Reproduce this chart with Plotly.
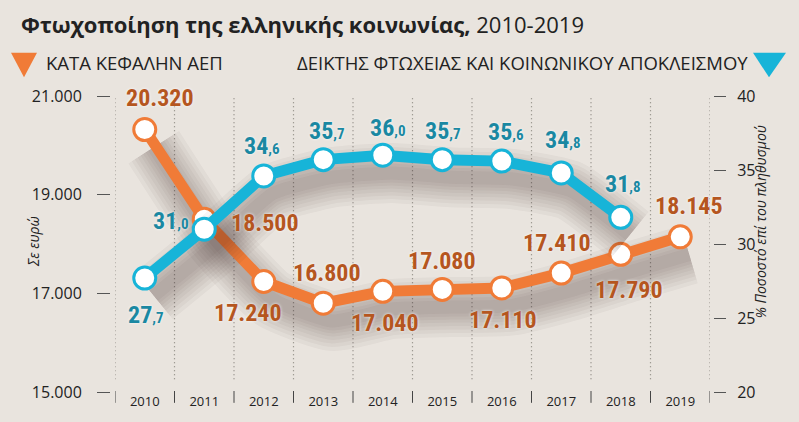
import plotly.graph_objects as go

# ---------------- data ----------------
years = ["2010", "2011", "2012", "2013", "2014", "2015", "2016", "2017", "2018", "2019"]
gdp_per_capita = [20320, 18500, 17240, 16800, 17040, 17080, 17110, 17410, 17790, 18145]
poverty_years = ["2010", "2011", "2012", "2013", "2014", "2015", "2016", "2017", "2018"]
poverty_index = [27.7, 31.0, 34.6, 35.7, 36.0, 35.7, 35.6, 34.8, 31.8]
left_ticks = [15000, 17000, 19000, 21000]
left_ticktext = ["15.000", "17.000", "19.000", "21.000"]
right_ticks = [20, 25, 30, 35, 40]

# ---------------- style ----------------
W, H = 799, 422
ML, MR, MT, MB = 100, 74, 96, 25
PW, PH = W - ML - MR, H - MT - MB
BG = "#E9E4DE"
ORANGE = "#F07B37"
ORANGE_TXT = "#B5561F"
BLUE = "#17B4D8"
BLUE_TXT = "#1A88A2"
TXT = "#222222"
BASE_FONT = "Open Sans, DejaVu Sans, sans-serif"
NUM_FONT = "Roboto Condensed, Noto Sans Condensed, Liberation Sans Narrow, DejaVu Sans Condensed, sans-serif"
NUM_SIZE = 24
GLOW = "0px 0px 3px rgba(255,255,255,0.9)"

# label offsets (pixels, dx right, dy up)
gdp_off = [(15, 32), (61, -4), (-16, -32), (4, 30), (2, -32), (0, 28), (1, -32), (-4, 30), (8, -36), (9, 31)]
pov_off = [(1, -37), (-33, 8), (-2, 30), (4, 29), (5, 27), (1, 29), (4, 29), (2, 33), (2, 33)]


def px_x(x):
    return (x - ML) / PW


def px_y(y):
    return (MT + PH - y) / PH


xi = list(range(len(years)))
xi_p = [years.index(y) for y in poverty_years]

fig = go.Figure()

# soft shadows beneath lines (derived from data, offset in pixels)
lu = (left_ticks[-1] - left_ticks[0]) / PH     # data units per pixel, left
ru = (right_ticks[-1] - right_ticks[0]) / PH   # right
xu = 1 / (PW * 0.952 / 10)
for w in [60, 52, 45, 38, 31, 25, 19, 13]:
    col = "rgba(45,38,30,0.04)"
    fig.add_trace(go.Scatter(
        x=[v + 9 * xu for v in xi], y=[v - 18 * lu for v in gdp_per_capita],
        mode="lines", line=dict(color=col, width=w, shape="spline", smoothing=0.5),
        hoverinfo="skip", showlegend=False, yaxis="y"))
    fig.add_trace(go.Scatter(
        x=[v + 9 * xu for v in xi_p], y=[v - 18 * ru for v in poverty_index],
        mode="lines", line=dict(color=col, width=w, shape="spline", smoothing=0.5),
        hoverinfo="skip", showlegend=False, yaxis="y2"))

fig.add_trace(go.Scatter(
    x=xi, y=gdp_per_capita, mode="lines+markers",
    line=dict(color=ORANGE, width=11),
    marker=dict(size=22, color="white", line=dict(color=ORANGE, width=3)),
    showlegend=False, yaxis="y"))
fig.add_trace(go.Scatter(
    x=xi_p, y=poverty_index, mode="lines+markers",
    line=dict(color=BLUE, width=11),
    marker=dict(size=22, color="white", line=dict(color=BLUE, width=3)),
    showlegend=False, yaxis="y2"))

ann = []
# data labels
for i, v in enumerate(gdp_per_capita):
    t = f"{v:,}".replace(",", ".")
    dx, dy = gdp_off[i]
    ann.append(dict(x=xi[i], y=v, xref="x", yref="y", text=t, showarrow=False,
                    xshift=dx, yshift=dy,
                    font=dict(family=NUM_FONT, size=NUM_SIZE, color=ORANGE_TXT, weight="bold", shadow=GLOW)))
for i, v in enumerate(poverty_index):
    ip, dec = f"{v:.1f}".split(".")
    t = f"{ip}<span style='font-size:15px'>,{dec}</span>"
    dx, dy = pov_off[i]
    ann.append(dict(x=xi_p[i], y=v, xref="x", yref="y2", text=t, showarrow=False,
                    xshift=dx, yshift=dy,
                    font=dict(family=NUM_FONT, size=NUM_SIZE, color=BLUE_TXT, weight="bold", shadow=GLOW)))

# title and legend texts
ann.append(dict(x=px_x(19), y=px_y(23), xref="paper", yref="paper", xanchor="left", yanchor="middle",
                text="<b>Φτωχοποίηση της ελληνικής κοινωνίας,</b> 2010-2019", showarrow=False,
                font=dict(family=BASE_FONT, size=22, color=TXT)))
ann.append(dict(x=px_x(44), y=px_y(62), xref="paper", yref="paper", xanchor="left", yanchor="middle",
                text="ΚΑΤΑ ΚΕΦΑΛΗΝ ΑΕΠ", showarrow=False,
                font=dict(family=BASE_FONT, size=18.5, color=TXT)))
ann.append(dict(x=px_x(750), y=px_y(62), xref="paper", yref="paper", xanchor="right", yanchor="middle",
                text="ΔΕΙΚΤΗΣ ΦΤΩΧΕΙΑΣ ΚΑΙ ΚΟΙΝΩΝΙΚΟΥ ΑΠΟΚΛΕΙΣΜΟΥ", showarrow=False,
                font=dict(family=BASE_FONT, size=18.5, color=TXT)))
# axis titles
ann.append(dict(x=px_x(22), y=px_y(244), xref="paper", yref="paper", textangle=-90,
                text="<i>Σε ευρώ</i>", showarrow=False,
                font=dict(family=BASE_FONT, size=14, color=TXT)))
ann.append(dict(x=px_x(772), y=px_y(224), xref="paper", yref="paper", textangle=-90,
                text="<i>% Ποσοστό επί του πληθυσμού</i>", showarrow=False,
                font=dict(family=BASE_FONT, size=14, color=TXT)))

shapes = []
# legend triangles
shapes.append(dict(type="path", xref="paper", yref="paper", line=dict(width=0), fillcolor=ORANGE,
                   path=f"M {px_x(11)} {px_y(52)} L {px_x(37)} {px_y(52)} L {px_x(24)} {px_y(77)} Z"))
shapes.append(dict(type="path", xref="paper", yref="paper", line=dict(width=0), fillcolor=BLUE,
                   path=f"M {px_x(753)} {px_y(52)} L {px_x(786)} {px_y(52)} L {px_x(769)} {px_y(77)} Z"))
# dotted vertical grid lines and bottom separators at category boundaries
for k in range(len(years) + 1):
    xb = k - 0.5
    shapes.append(dict(type="line", xref="x", yref="paper", x0=xb, x1=xb, y0=px_y(384), y1=1,
                       line=dict(color="#86827b", width=1.2, dash="1px,3px"), layer="below"))
    shapes.append(dict(type="line", xref="x", yref="paper", x0=xb, x1=xb, y0=px_y(396), y1=px_y(408),
                       line=dict(color="#444", width=1)))

fig.update_layout(
    width=W, height=H, autosize=False,
    margin=dict(l=ML, r=MR, t=MT, b=MB),
    paper_bgcolor=BG, plot_bgcolor=BG,
    font=dict(family=BASE_FONT, color=TXT),
    xaxis=dict(range=[-0.5, len(years) - 0.5], domain=[px_x(115), px_x(710)],
               tickvals=xi, ticktext=years, showgrid=False, zeroline=False, showline=False,
               ticks="", tickfont=dict(family=BASE_FONT, size=13, color=TXT), fixedrange=True),
    yaxis=dict(range=[left_ticks[0], left_ticks[-1]], anchor="free", position=px_x(110),
               tickvals=left_ticks, ticktext=left_ticktext,
               ticks="outside", ticklen=13, ticklabelstandoff=12,
               tickcolor="#555", tickwidth=1.3, showgrid=False, zeroline=False, showline=False,
               tickfont=dict(family=BASE_FONT, size=16, color=TXT)),
    yaxis2=dict(range=[right_ticks[0], right_ticks[-1]], overlaying="y", side="right", anchor="free",
                position=px_x(713), tickvals=right_ticks, ticks="outside", ticklen=12,
                tickcolor="#555", tickwidth=1.3, showgrid=False, zeroline=False, showline=False,
                ticklabelstandoff=8, tickfont=dict(family=BASE_FONT, size=16, color=TXT)),
    annotations=ann, shapes=shapes,
)

fig.write_html("out.html")
